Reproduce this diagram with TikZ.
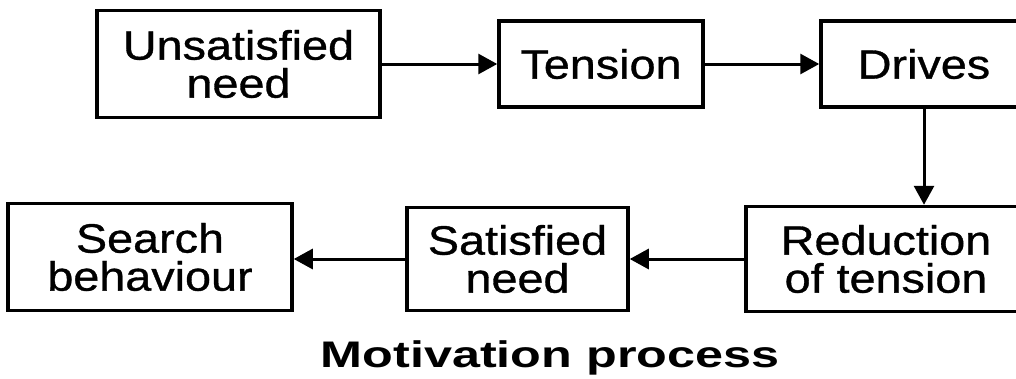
\documentclass[tikz,border=0pt]{standalone}
\usepackage{fontspec}
\setmainfont{Liberation Sans}[FakeStretch=1.14,FakeBold=0.8]
\newfontfamily\captionfont{Liberation Sans}[FakeStretch=1.36]
\usetikzlibrary{arrows.meta}
\begin{document}
\begin{tikzpicture}[x=1pt,y=-1pt,
  stepbox/.style={draw=black,line width=3.5pt,rectangle,inner sep=0pt,align=center,
    font=\fontsize{41}{38}\selectfont},
  flow/.style={line width=3pt,-{Triangle[length=19pt,width=20pt]}}]
  \useasboundingbox (0,0) rectangle (1016,378);
  \clip (0,0) rectangle (1016,378);
  % upper row
  \node[stepbox,minimum width=283pt,minimum height=107pt] (unsat) at (238.5,64) {Unsatisfied\\need};
  \node[stepbox,minimum width=204pt,minimum height=86pt] (tension) at (601,64) {Tension};
  \node[stepbox,minimum width=206pt,minimum height=86pt] (drives) at (924,64) {Drives};
  % lower row
  \node[stepbox,minimum width=280pt,minimum height=105pt] (reduc) at (886,259) {Reduction\\of tension};
  \node[stepbox,minimum width=221pt,minimum height=103pt] (sat) at (517.5,259) {Satisfied\\need};
  \node[stepbox,minimum width=284pt,minimum height=107pt] (search) at (150,257) {Search\\behaviour};
  % connectors
  \draw[flow] (unsat.east) -- (tension.west);
  \draw[flow] (tension.east) -- (drives.west);
  \draw[flow] (drives.south) -- (reduc.north -| drives.south);
  \draw[flow] (reduc.west) -- (sat.east);
  \draw[flow] (sat.west) -- (search.east |- sat.west);
  % caption
  \node[font=\captionfont\bfseries\fontsize{37}{40}\selectfont] (caption) at (550,358) {Motivation process};
\end{tikzpicture}
\end{document}
